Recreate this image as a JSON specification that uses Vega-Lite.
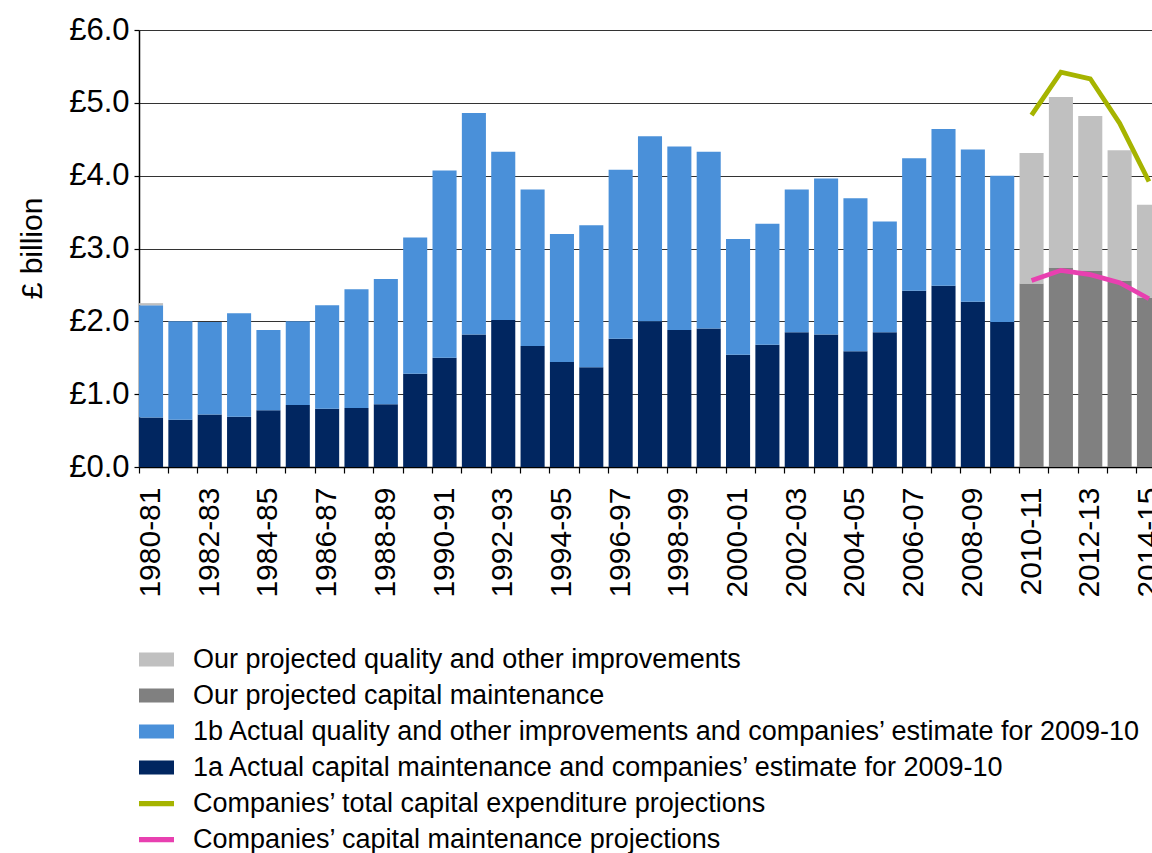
{
  "$schema": "https://vega.github.io/schema/vega-lite/v6.json",
  "width": 1013,
  "height": 437,
  "autosize": {"type": "none"},
  "padding": {"left": 139, "top": 30, "right": 0, "bottom": 386},
  "background": "white",
  "config": {
    "font": "Liberation Sans",
    "view": {"stroke": null},
    "axis": {"domainColor": "#000", "tickColor": "#000", "labelColor": "#000", "titleColor": "#000"}
  },
  "datasets": {
    "bars": [
      {"year": "1980-81", "series": "1a Actual capital maintenance and companies’ estimate for 2009-10", "value": 0.68},
      {"year": "1980-81", "series": "1b Actual quality and other improvements and companies’ estimate for 2009-10", "value": 1.54},
      {"year": "1980-81", "series": "Our projected quality and other improvements", "value": 0.03},
      {"year": "1981-82", "series": "1a Actual capital maintenance and companies’ estimate for 2009-10", "value": 0.65},
      {"year": "1981-82", "series": "1b Actual quality and other improvements and companies’ estimate for 2009-10", "value": 1.35},
      {"year": "1982-83", "series": "1a Actual capital maintenance and companies’ estimate for 2009-10", "value": 0.72},
      {"year": "1982-83", "series": "1b Actual quality and other improvements and companies’ estimate for 2009-10", "value": 1.27},
      {"year": "1983-84", "series": "1a Actual capital maintenance and companies’ estimate for 2009-10", "value": 0.69},
      {"year": "1983-84", "series": "1b Actual quality and other improvements and companies’ estimate for 2009-10", "value": 1.42},
      {"year": "1984-85", "series": "1a Actual capital maintenance and companies’ estimate for 2009-10", "value": 0.78},
      {"year": "1984-85", "series": "1b Actual quality and other improvements and companies’ estimate for 2009-10", "value": 1.10},
      {"year": "1985-86", "series": "1a Actual capital maintenance and companies’ estimate for 2009-10", "value": 0.85},
      {"year": "1985-86", "series": "1b Actual quality and other improvements and companies’ estimate for 2009-10", "value": 1.15},
      {"year": "1986-87", "series": "1a Actual capital maintenance and companies’ estimate for 2009-10", "value": 0.80},
      {"year": "1986-87", "series": "1b Actual quality and other improvements and companies’ estimate for 2009-10", "value": 1.42},
      {"year": "1987-88", "series": "1a Actual capital maintenance and companies’ estimate for 2009-10", "value": 0.81},
      {"year": "1987-88", "series": "1b Actual quality and other improvements and companies’ estimate for 2009-10", "value": 1.63},
      {"year": "1988-89", "series": "1a Actual capital maintenance and companies’ estimate for 2009-10", "value": 0.86},
      {"year": "1988-89", "series": "1b Actual quality and other improvements and companies’ estimate for 2009-10", "value": 1.72},
      {"year": "1989-90", "series": "1a Actual capital maintenance and companies’ estimate for 2009-10", "value": 1.28},
      {"year": "1989-90", "series": "1b Actual quality and other improvements and companies’ estimate for 2009-10", "value": 1.87},
      {"year": "1990-91", "series": "1a Actual capital maintenance and companies’ estimate for 2009-10", "value": 1.50},
      {"year": "1990-91", "series": "1b Actual quality and other improvements and companies’ estimate for 2009-10", "value": 2.57},
      {"year": "1991-92", "series": "1a Actual capital maintenance and companies’ estimate for 2009-10", "value": 1.82},
      {"year": "1991-92", "series": "1b Actual quality and other improvements and companies’ estimate for 2009-10", "value": 3.04},
      {"year": "1992-93", "series": "1a Actual capital maintenance and companies’ estimate for 2009-10", "value": 2.02},
      {"year": "1992-93", "series": "1b Actual quality and other improvements and companies’ estimate for 2009-10", "value": 2.31},
      {"year": "1993-94", "series": "1a Actual capital maintenance and companies’ estimate for 2009-10", "value": 1.66},
      {"year": "1993-94", "series": "1b Actual quality and other improvements and companies’ estimate for 2009-10", "value": 2.15},
      {"year": "1994-95", "series": "1a Actual capital maintenance and companies’ estimate for 2009-10", "value": 1.44},
      {"year": "1994-95", "series": "1b Actual quality and other improvements and companies’ estimate for 2009-10", "value": 1.76},
      {"year": "1995-96", "series": "1a Actual capital maintenance and companies’ estimate for 2009-10", "value": 1.37},
      {"year": "1995-96", "series": "1b Actual quality and other improvements and companies’ estimate for 2009-10", "value": 1.95},
      {"year": "1996-97", "series": "1a Actual capital maintenance and companies’ estimate for 2009-10", "value": 1.76},
      {"year": "1996-97", "series": "1b Actual quality and other improvements and companies’ estimate for 2009-10", "value": 2.32},
      {"year": "1997-98", "series": "1a Actual capital maintenance and companies’ estimate for 2009-10", "value": 2.00},
      {"year": "1997-98", "series": "1b Actual quality and other improvements and companies’ estimate for 2009-10", "value": 2.54},
      {"year": "1998-99", "series": "1a Actual capital maintenance and companies’ estimate for 2009-10", "value": 1.88},
      {"year": "1998-99", "series": "1b Actual quality and other improvements and companies’ estimate for 2009-10", "value": 2.52},
      {"year": "1999-00", "series": "1a Actual capital maintenance and companies’ estimate for 2009-10", "value": 1.90},
      {"year": "1999-00", "series": "1b Actual quality and other improvements and companies’ estimate for 2009-10", "value": 2.43},
      {"year": "2000-01", "series": "1a Actual capital maintenance and companies’ estimate for 2009-10", "value": 1.54},
      {"year": "2000-01", "series": "1b Actual quality and other improvements and companies’ estimate for 2009-10", "value": 1.59},
      {"year": "2001-02", "series": "1a Actual capital maintenance and companies’ estimate for 2009-10", "value": 1.68},
      {"year": "2001-02", "series": "1b Actual quality and other improvements and companies’ estimate for 2009-10", "value": 1.66},
      {"year": "2002-03", "series": "1a Actual capital maintenance and companies’ estimate for 2009-10", "value": 1.85},
      {"year": "2002-03", "series": "1b Actual quality and other improvements and companies’ estimate for 2009-10", "value": 1.96},
      {"year": "2003-04", "series": "1a Actual capital maintenance and companies’ estimate for 2009-10", "value": 1.82},
      {"year": "2003-04", "series": "1b Actual quality and other improvements and companies’ estimate for 2009-10", "value": 2.14},
      {"year": "2004-05", "series": "1a Actual capital maintenance and companies’ estimate for 2009-10", "value": 1.59},
      {"year": "2004-05", "series": "1b Actual quality and other improvements and companies’ estimate for 2009-10", "value": 2.10},
      {"year": "2005-06", "series": "1a Actual capital maintenance and companies’ estimate for 2009-10", "value": 1.85},
      {"year": "2005-06", "series": "1b Actual quality and other improvements and companies’ estimate for 2009-10", "value": 1.52},
      {"year": "2006-07", "series": "1a Actual capital maintenance and companies’ estimate for 2009-10", "value": 2.42},
      {"year": "2006-07", "series": "1b Actual quality and other improvements and companies’ estimate for 2009-10", "value": 1.82},
      {"year": "2007-08", "series": "1a Actual capital maintenance and companies’ estimate for 2009-10", "value": 2.49},
      {"year": "2007-08", "series": "1b Actual quality and other improvements and companies’ estimate for 2009-10", "value": 2.15},
      {"year": "2008-09", "series": "1a Actual capital maintenance and companies’ estimate for 2009-10", "value": 2.27},
      {"year": "2008-09", "series": "1b Actual quality and other improvements and companies’ estimate for 2009-10", "value": 2.09},
      {"year": "2009-10", "series": "1a Actual capital maintenance and companies’ estimate for 2009-10", "value": 1.99},
      {"year": "2009-10", "series": "1b Actual quality and other improvements and companies’ estimate for 2009-10", "value": 2.01},
      {"year": "2010-11", "series": "Our projected capital maintenance", "value": 2.52},
      {"year": "2010-11", "series": "Our projected quality and other improvements", "value": 1.79},
      {"year": "2011-12", "series": "Our projected capital maintenance", "value": 2.74},
      {"year": "2011-12", "series": "Our projected quality and other improvements", "value": 2.34},
      {"year": "2012-13", "series": "Our projected capital maintenance", "value": 2.69},
      {"year": "2012-13", "series": "Our projected quality and other improvements", "value": 2.13},
      {"year": "2013-14", "series": "Our projected capital maintenance", "value": 2.56},
      {"year": "2013-14", "series": "Our projected quality and other improvements", "value": 1.79},
      {"year": "2014-15", "series": "Our projected capital maintenance", "value": 2.32},
      {"year": "2014-15", "series": "Our projected quality and other improvements", "value": 1.28}
    ],
    "lines": [
      {"year": "2010-11", "series": "Companies’ total capital expenditure projections", "value": 4.83},
      {"year": "2011-12", "series": "Companies’ total capital expenditure projections", "value": 5.42},
      {"year": "2012-13", "series": "Companies’ total capital expenditure projections", "value": 5.33},
      {"year": "2013-14", "series": "Companies’ total capital expenditure projections", "value": 4.72},
      {"year": "2014-15", "series": "Companies’ total capital expenditure projections", "value": 3.92},
      {"year": "2010-11", "series": "Companies’ capital maintenance projections", "value": 2.56},
      {"year": "2011-12", "series": "Companies’ capital maintenance projections", "value": 2.70},
      {"year": "2012-13", "series": "Companies’ capital maintenance projections", "value": 2.64},
      {"year": "2013-14", "series": "Companies’ capital maintenance projections", "value": 2.53},
      {"year": "2014-15", "series": "Companies’ capital maintenance projections", "value": 2.31}
    ]
  },
  "encoding": {
    "x": {
      "field": "year",
      "type": "nominal",
      "sort": null,
      "scale": {"paddingInner": 0.18, "paddingOuter": 0, "range": [0, 1022]},
      "axis": {
        "title": null,
        "labelAngle": -90,
        "labelFontSize": 30,
        "bandPosition": 0,
        "tickSize": 6,
        "tickWidth": 1.2,
        "labelPadding": 14,
        "domainWidth": 1.5,
        "labelOverlap": false,
        "labelBound": false,
        "labelFlush": false,
        "labelExpr": "toNumber(substring(datum.value, 3, 4)) % 2 === 0 ? datum.value : ''"
      }
    },
    "y": {
      "field": "value",
      "type": "quantitative",
      "scale": {"domain": [0, 6], "nice": false},
      "axis": {
        "values": [0, 1, 2, 3, 4, 5, 6],
        "labelExpr": "'£' + format(datum.value, '.1f')",
        "labelFontSize": 31,
        "tickSize": 5,
        "tickWidth": 1.2,
        "labelPadding": 5,
        "gridColor": "#333333",
        "gridWidth": 1.2,
        "domainWidth": 1.5,
        "title": "£ billion",
        "titleFontSize": 30,
        "titleFontWeight": "normal",
        "titleAngle": -90,
        "titleX": -98,
        "titleY": 218,
        "titleAlign": "center",
        "titleBaseline": "alphabetic"
      }
    }
  },
  "layer": [
    {
      "data": {"name": "bars"},
      "mark": {"type": "bar"},
      "encoding": {
        "y": {"field": "value", "type": "quantitative", "stack": "zero"},
        "order": {"field": "series", "sort": "ascending"},
        "color": {
          "field": "series",
          "type": "nominal",
          "scale": {
            "domain": [
              "Our projected quality and other improvements",
              "Our projected capital maintenance",
              "1b Actual quality and other improvements and companies’ estimate for 2009-10",
              "1a Actual capital maintenance and companies’ estimate for 2009-10",
              "Companies’ total capital expenditure projections",
              "Companies’ capital maintenance projections"
            ],
            "range": ["#C0C0C0", "#808080", "#4A90D9", "#012660", "#A6B400", "#E840B0"]
          },
          "legend": {
            "orient": "none",
            "legendX": 0,
            "legendY": 612,
            "title": null,
            "direction": "vertical",
            "labelFontSize": 27,
            "labelLimit": 1200,
            "labelColor": "#000",
            "symbolSize": 1225,
            "rowPadding": 5,
            "labelOffset": 19,
            "padding": 0,
            "encode": {
              "symbols": {
                "update": {
                  "shape": {"signal": "indexof(datum.value, 'Companies') === 0 ? 'M-1,-0.15H1V0.15H-1Z' : 'M-1,-0.4H1V0.4H-1Z'"},
                  "fill": {"scale": "color", "field": "value"},
                  "stroke": {"value": "transparent"},
                  "strokeWidth": {"value": 0},
                  "opacity": {"value": 1},
                  "fillOpacity": {"value": 1},
                  "size": {"value": 1225}
                }
              }
            }
          }
        }
      }
    },
    {
      "data": {"name": "lines"},
      "mark": {"type": "line", "strokeWidth": 4.8},
      "encoding": {
        "color": {"field": "series", "type": "nominal"}
      }
    }
  ]
}
